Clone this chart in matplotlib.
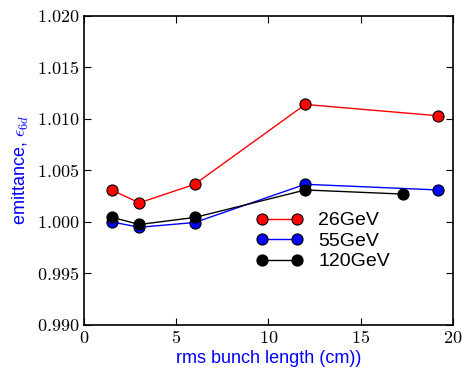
import matplotlib
matplotlib.use("Agg")
import matplotlib.pyplot as plt
from matplotlib.ticker import FuncFormatter

plt.rcParams["mathtext.fontset"] = "cm"
plt.rcParams["font.family"] = ["Liberation Sans", "DejaVu Sans"]
plt.rcParams["xtick.direction"] = "in"
plt.rcParams["ytick.direction"] = "in"

# rms bunch length (cm)
x_26 = [1.5, 3.0, 6.0, 12.0, 19.2]
x_55 = [1.5, 3.0, 6.0, 12.0, 19.2]
x_120 = [1.5, 3.0, 6.0, 12.0, 17.3]

# normalised 6d emittance
e_26 = [1.0031, 1.00185, 1.00365, 1.0114, 1.0103]
e_55 = [1.0000, 0.99948, 0.99994, 1.00365, 1.0031]
e_120 = [1.00046, 0.99975, 1.00043, 1.0031, 1.0027]

labels = ["26GeV", "55GeV", "120GeV"]
colors = ["red", "blue", "black"]

fig = plt.figure(figsize=(4.64, 3.68), dpi=100)
ax = fig.add_axes([0.181, 0.117, 0.795, 0.84])

for xs, ys, lab, c in zip([x_26, x_55, x_120], [e_26, e_55, e_120], labels, colors):
    ax.plot(xs, ys, "-o", color=c, mfc=c, mec="black", mew=0.8,
            markersize=8, lw=1.0, label=lab)

ax.set_xlim(0, 20)
ax.set_ylim(0.990, 1.020)
ax.set_xticks([0, 5, 10, 15, 20])
ax.set_yticks([0.990, 0.995, 1.000, 1.005, 1.010, 1.015, 1.020])
ax.xaxis.set_major_formatter(FuncFormatter(lambda v, p: r"$%d$" % v))
ax.yaxis.set_major_formatter(FuncFormatter(lambda v, p: r"$%.3f$" % v))
ax.tick_params(which="both", top=True, right=True, labelsize=13, length=5, width=0.8)
for s in ax.spines.values():
    s.set_linewidth(1.2)

ax.set_xlabel("rms bunch length (cm))", color="blue", fontsize=13, labelpad=2)
ax.set_ylabel(r"emittance, $\epsilon_{6d}$", color="blue", fontsize=13, labelpad=4)

ax.legend(loc="upper left", bbox_to_anchor=(0.43, 0.41), frameon=False,
          numpoints=2, fontsize=14, handlelength=2.4, handletextpad=0.8,
          labelspacing=0.15, borderpad=0.2)

fig.savefig("out.png", dpi=100)
